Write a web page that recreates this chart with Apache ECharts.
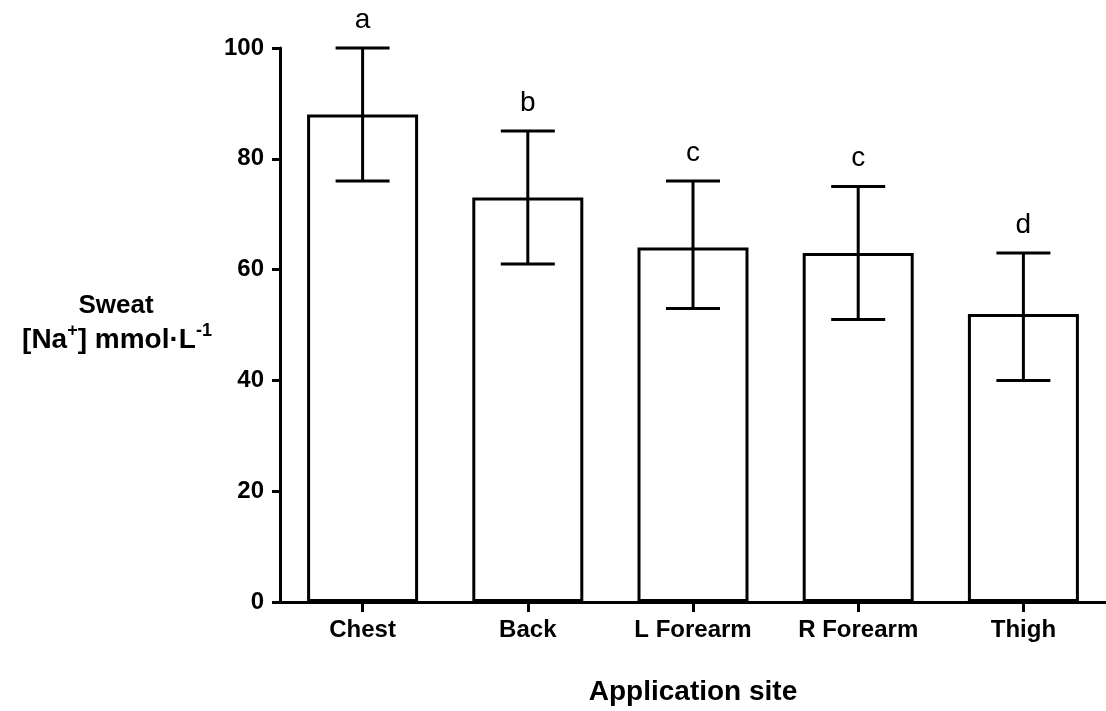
<!DOCTYPE html>
<html>
<head>
<meta charset="utf-8">
<script src="https://cdn.jsdelivr.net/npm/echarts@6/dist/echarts.min.js"></script>
<style>
html,body{margin:0;padding:0;background:#fff;}
#chart{width:1106px;height:711px;}
</style>
</head>
<body>
<div id="chart"></div>
<script>
const categories = ['Chest', 'Back', 'L Forearm', 'R Forearm', 'Thigh'];
const means = [88, 73, 64, 63, 52];
const upper = [100, 85, 76, 75, 63];
const lower = [76, 61, 53, 51, 40];
const letters = ['a', 'b', 'c', 'c', 'd'];
const yTicks = [0, 20, 40, 60, 80, 100];

const FONT = '"Liberation Sans", Arial, sans-serif';
const chart = echarts.init(document.getElementById('chart'), null, {renderer: 'canvas'});

const errData = categories.map((c, i) => [i, lower[i], upper[i], letters[i]]);

chart.setOption({
  animation: false,
  backgroundColor: '#fff',
  grid: {left: 280, top: 48, width: 835, height: 554},
  xAxis: {
    type: 'category',
    data: categories,
    boundaryGap: true,
    axisLine: {show: true, lineStyle: {color: '#000', width: 3}},
    axisTick: {show: true, interval: 0, alignWithLabel: true, length: 10, lineStyle: {color: '#000', width: 3}},
    axisLabel: {color: '#000', fontFamily: FONT, fontWeight: 'bold', fontSize: 24, margin: 16, interval: 0},
    name: 'Application site',
    nameLocation: 'middle',
    nameGap: 76,
    nameTextStyle: {color: '#000', fontFamily: FONT, fontWeight: 'bold', fontSize: 28}
  },
  yAxis: {
    type: 'value',
    min: yTicks[0],
    max: yTicks[yTicks.length - 1],
    interval: 20,
    splitLine: {show: false},
    axisLine: {show: true, lineStyle: {color: '#000', width: 3}},
    axisTick: {show: true, length: 8, lineStyle: {color: '#000', width: 3}},
    axisLabel: {color: '#000', fontFamily: FONT, fontWeight: 'bold', fontSize: 24, margin: 16}
  },
  graphic: [
    {
      type: 'text',
      style: {
        x: 116, y: 306, text: 'Sweat', align: 'center', verticalAlign: 'middle',
        font: 'bold 26px ' + FONT, fill: '#000'
      }
    },
    {
      type: 'text',
      style: {
        x: 117, y: 338, align: 'center', verticalAlign: 'middle',
        text: '{m|[Na}{s|+}{m|] mmol·L}{s|-1}',
        rich: {
          m: {fontFamily: FONT, fontWeight: 'bold', fontSize: 28, lineHeight: 32, verticalAlign: 'bottom', fill: '#000', color: '#000'},
          s: {fontFamily: FONT, fontWeight: 'bold', fontSize: 18, lineHeight: 32, verticalAlign: 'top', fill: '#000', color: '#000'}
        }
      }
    }
  ],
  series: [
    {
      type: 'bar',
      data: means,
      barWidth: 111,
      itemStyle: {color: '#fff', borderColor: '#000', borderWidth: 3},
      z: 2
    },
    {
      type: 'custom',
      data: errData,
      z: 3,
      renderItem: function (params, api) {
        const x = api.value(0);
        const lo = api.coord([x, api.value(1)]);
        const hi = api.coord([x, api.value(2)]);
        const hw = 27;
        const st = {stroke: '#000', lineWidth: 3};
        return {
          type: 'group',
          children: [
            {type: 'line', shape: {x1: hi[0], y1: hi[1], x2: lo[0], y2: lo[1]}, style: st},
            {type: 'line', shape: {x1: hi[0] - hw, y1: hi[1], x2: hi[0] + hw, y2: hi[1]}, style: st},
            {type: 'line', shape: {x1: lo[0] - hw, y1: lo[1], x2: lo[0] + hw, y2: lo[1]}, style: st},
            {type: 'text', style: {x: hi[0], y: hi[1] - 28, text: letters[params.dataIndex],
              align: 'center', verticalAlign: 'middle', font: '28px ' + FONT, fill: '#000'}}
          ]
        };
      }
    }
  ]
});
</script>
</body>
</html>
